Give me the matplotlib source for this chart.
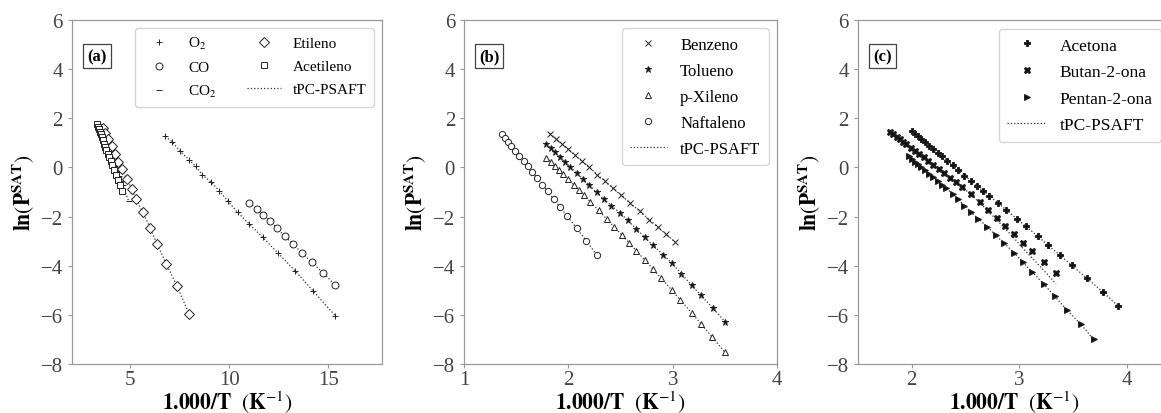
import matplotlib
matplotlib.use("Agg")
import matplotlib.pyplot as plt

plt.rcParams["font.family"] = ["Liberation Serif", "DejaVu Serif"]
plt.rcParams["mathtext.fontset"] = "stix"

# ---- panel (a) ----
o2_x = [6.78, 7.12, 7.54, 7.97, 8.31, 8.64, 9.07, 9.49, 9.92, 10.42, 11.02, 11.69, 12.46, 13.31, 14.24, 15.34]
o2_y = [1.26, 1.04, 0.65, 0.31, 0.04, -0.30, -0.59, -0.95, -1.36, -1.83, -2.31, -2.85, -3.49, -4.20, -5.04, -6.03]
co_x = [11.02, 11.41, 11.69, 12.03, 12.42, 12.80, 13.22, 13.68, 14.15, 14.75, 15.34]
co_y = [-1.45, -1.70, -1.94, -2.17, -2.48, -2.81, -3.12, -3.49, -3.86, -4.30, -4.79]
co2_x = [3.35, 3.45, 3.55, 3.65, 3.75, 3.85, 3.95, 4.05, 4.15, 4.25, 4.35, 4.45, 4.55, 4.62, 4.92]
co2_y = [1.85, 1.66, 1.46, 1.27, 1.07, 0.87, 0.67, 0.47, 0.27, 0.06, -0.15, -0.36, -0.56, -0.70, -1.35]
etileno_x = [3.62, 3.75, 3.90, 4.07, 4.24, 4.41, 4.58, 4.83, 5.08, 5.31, 5.64, 6.02, 6.36, 6.83, 7.37, 7.97]
etileno_y = [1.62, 1.42, 1.17, 0.88, 0.54, 0.24, -0.07, -0.48, -0.86, -1.30, -1.83, -2.48, -3.12, -3.93, -4.84, -5.96]
acetileno_x = [3.32, 3.37, 3.42, 3.47, 3.52, 3.57, 3.63, 3.69, 3.75, 3.81, 3.88, 3.95, 4.02, 4.10, 4.18, 4.27, 4.37, 4.47, 4.58]
acetileno_y = [1.77, 1.66, 1.55, 1.45, 1.34, 1.23, 1.10, 0.97, 0.84, 0.71, 0.56, 0.41, 0.26, 0.08, -0.09, -0.29, -0.50, -0.72, -0.95]

# ---- panel (b) ----
benzeno_x = [1.823, 1.880, 1.935, 1.998, 2.062, 2.126, 2.199, 2.276, 2.349, 2.429, 2.509, 2.589, 2.684, 2.774, 2.860, 2.939, 3.026]
benzeno_y = [1.38, 1.17, 0.97, 0.74, 0.50, 0.27, 0.00, -0.29, -0.56, -0.85, -1.14, -1.44, -1.79, -2.12, -2.44, -2.73, -3.05]
tolueno_x = [1.79, 1.83, 1.87, 1.92, 1.97, 2.02, 2.08, 2.14, 2.20, 2.27, 2.34, 2.41, 2.49, 2.57, 2.65, 2.73, 2.81, 2.91, 2.99, 3.08, 3.18, 3.27, 3.39, 3.50]
tolueno_y = [0.95, 0.79, 0.63, 0.43, 0.22, 0.01, -0.23, -0.48, -0.73, -1.01, -1.30, -1.55, -1.84, -2.16, -2.50, -2.84, -3.16, -3.56, -3.88, -4.32, -4.79, -5.21, -5.74, -6.28]
xileno_x = [1.79, 1.83, 1.87, 1.91, 1.95, 2.00, 2.05, 2.10, 2.15, 2.21, 2.29, 2.37, 2.44, 2.51, 2.58, 2.65, 2.73, 2.81, 2.89, 2.99, 3.07, 3.18, 3.27, 3.38, 3.50]
xileno_y = [0.40, 0.23, 0.07, -0.10, -0.27, -0.49, -0.70, -0.92, -1.14, -1.40, -1.75, -2.11, -2.42, -2.74, -3.06, -3.39, -3.76, -4.13, -4.51, -4.99, -5.38, -5.92, -6.36, -6.91, -7.52]
naftaleno_x = [1.36, 1.39, 1.42, 1.45, 1.49, 1.53, 1.57, 1.61, 1.65, 1.70, 1.75, 1.80, 1.86, 1.92, 1.99, 2.08, 2.17, 2.27]
naftaleno_y = [1.36, 1.20, 1.05, 0.89, 0.68, 0.47, 0.26, 0.05, -0.17, -0.43, -0.70, -0.97, -1.29, -1.61, -1.99, -2.48, -2.98, -3.55]

# ---- panel (c) ----
acetona_x = [2.00, 2.03, 2.06, 2.09, 2.12, 2.16, 2.20, 2.24, 2.28, 2.33, 2.38, 2.43, 2.49, 2.55, 2.61, 2.66,
             2.72, 2.80, 2.88, 2.98, 3.06, 3.17, 3.27, 3.38, 3.49, 3.63, 3.78, 3.92]
acetona_y = [1.47, 1.37, 1.26, 1.15, 1.04, 0.89, 0.74, 0.60, 0.45, 0.27, 0.08, -0.10, -0.33, -0.55, -0.77, -0.95,
             -1.15, -1.44, -1.74, -2.10, -2.40, -2.80, -3.17, -3.58, -3.99, -4.52, -5.08, -5.65]
butanona_x = [1.80, 1.83, 1.86, 1.89, 1.92, 1.95, 1.99, 2.03, 2.07, 2.11, 2.15, 2.20, 2.25, 2.30, 2.36, 2.41,
              2.47, 2.55, 2.63, 2.71, 2.79, 2.87, 2.95, 3.03, 3.12, 3.23, 3.34]
butanona_y = [1.45, 1.35, 1.25, 1.15, 1.05, 0.95, 0.81, 0.68, 0.55, 0.41, 0.28, 0.11, -0.06, -0.23, -0.43, -0.59,
              -0.80, -1.10, -1.40, -1.74, -2.05, -2.38, -2.70, -3.06, -3.40, -3.83, -4.31]
butanona_model_y = [1.45, 1.35, 1.25, 1.15, 1.05, 0.95, 0.81, 0.68, 0.55, 0.41, 0.28, 0.11, -0.06, -0.23, -0.43, -0.59,
                    -0.80, -1.11, -1.42, -1.79, -2.13, -2.50, -2.87, -3.28, -3.69, -4.20, -4.74]
pentanona_x = [1.97, 2.00, 2.03, 2.06, 2.09, 2.12, 2.16, 2.20, 2.24, 2.28, 2.32, 2.38, 2.43, 2.49, 2.55, 2.62,
               2.70, 2.78, 2.86, 2.95, 3.03, 3.12, 3.23, 3.33, 3.44, 3.57, 3.69]
pentanona_y = [0.45, 0.34, 0.23, 0.12, 0.01, -0.10, -0.25, -0.40, -0.55, -0.70, -0.85, -1.08, -1.29, -1.55, -1.83, -2.09,
               -2.41, -2.76, -3.09, -3.47, -3.85, -4.26, -4.76, -5.25, -5.79, -6.37, -7.00]

MODEL = dict(ls=":", lw=0.9, color="#333333")
GRAY = "#999999"
ylabel = r"$\mathbf{ln}\left(\mathbf{P}^{\mathbf{SAT}}\right)$"
xlabel = r"$\mathbf{1.000/T}\ \ (\mathbf{K}^{-1})$"


def style(ax, xlim, xticks, tag):
    ax.set_xlim(*xlim)
    ax.set_ylim(-8, 6)
    ax.set_xticks(xticks)
    ax.set_yticks(range(-8, 7, 2))
    for s in ax.spines.values():
        s.set_color(GRAY)
        s.set_linewidth(0.9)
    ax.tick_params(direction="out", length=3, width=0.8, color=GRAY,
                   labelsize=15, labelcolor="#444444")
    ax.tick_params(axis="x", pad=1.5)
    ax.set_xlabel(xlabel, fontsize=15.5)
    ax.set_ylabel(ylabel, fontsize=15.5)
    ax.xaxis.set_label_coords(0.5, -0.072)
    ax.yaxis.set_label_coords(-0.115, 0.5)
    ax.text(0.08, 0.895, tag, transform=ax.transAxes, fontsize=12, fontweight="bold",
            ha="center", va="center",
            bbox=dict(boxstyle="square,pad=0.25", fc="white", ec="#444444", lw=0.9))


def series(ax, x, y, marker, label, filled, ms=5, model_y=None):
    ax.plot(x, y if model_y is None else model_y, **MODEL)
    fc = "#111111" if filled else "white"
    ax.plot(x, y, ls="none", marker=marker, ms=ms, mfc=fc, mec="#222222", mew=0.7, label=label)


LEG = dict(loc="upper right", edgecolor="#cccccc", handlelength=2.2, handletextpad=0.8,
           borderpad=0.5, labelspacing=0.6)

fig = plt.figure(figsize=(11.61, 4.14), dpi=100)
axa = fig.add_axes([0.0620, 0.1184, 0.2670, 0.8309])
axb = fig.add_axes([0.3997, 0.1184, 0.2696, 0.8309])
axc = fig.add_axes([0.7390, 0.1184, 0.2687, 0.8309])

# (a)
series(axa, o2_x, o2_y, "+", r"O$_2$", True, ms=5)
series(axa, co_x, co_y, "o", "CO", False, ms=5)
series(axa, co2_x, co2_y, "_", r"CO$_2$", True, ms=5)
series(axa, etileno_x, etileno_y, "D", "Etileno", False, ms=5)
series(axa, acetileno_x, acetileno_y, "s", "Acetileno", False, ms=5)
h = axa.get_legend_handles_labels()
model_line, = axa.plot([], [], label="tPC-PSAFT", **MODEL)
handles = h[0] + [model_line]
labels = h[1] + ["tPC-PSAFT"]
axa.legend(handles, labels, ncol=2, fontsize=11, columnspacing=2.0, **LEG)
style(axa, (2.07, 17.7), [5, 10, 15], "(a)")

# (b)
series(axb, benzeno_x, benzeno_y, "x", "Benzeno", True, ms=5)
series(axb, tolueno_x, tolueno_y, "*", "Tolueno", True, ms=5)
series(axb, xileno_x, xileno_y, "^", "p-Xileno", False, ms=5)
series(axb, naftaleno_x, naftaleno_y, "o", "Naftaleno", False, ms=4.5)
axb.plot([], [], label="tPC-PSAFT", **MODEL)
axb.legend(fontsize=12, **LEG)
style(axb, (1, 4), [1, 2, 3, 4], "(b)")

# (c)
series(axc, acetona_x, acetona_y, "P", "Acetona", True, ms=5)
series(axc, butanona_x, butanona_y, "X", "Butan-2-ona", True, ms=5, model_y=butanona_model_y)
series(axc, pentanona_x, pentanona_y, ">", "Pentan-2-ona", True, ms=5)
axc.plot([], [], label="tPC-PSAFT", **MODEL)
axc.legend(fontsize=12.5, **LEG)
style(axc, (1.5, 4.4), [2, 3, 4], "(c)")

fig.savefig("out.png", dpi=100)
